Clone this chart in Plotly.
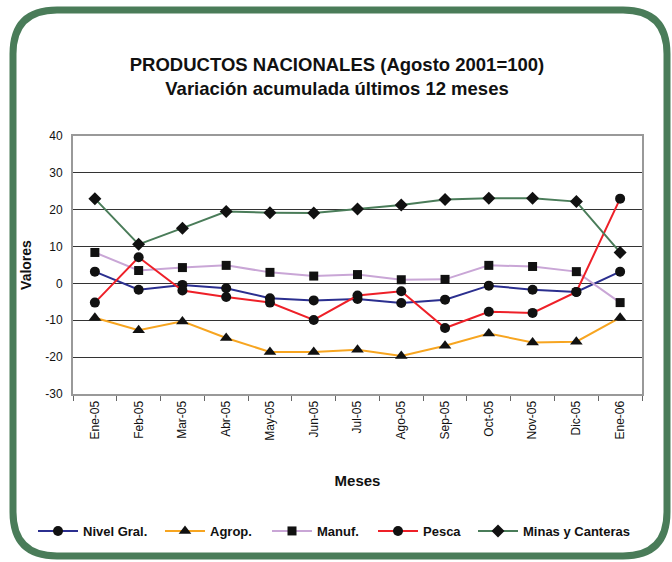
import plotly.graph_objects as go

meses = ["Ene-05", "Feb-05", "Mar-05", "Abr-05", "May-05", "Jun-05", "Jul-05",
         "Ago-05", "Sep-05", "Oct-05", "Nov-05", "Dic-05", "Ene-06"]
nivel_gral = [3.2, -1.7, -0.4, -1.3, -4.0, -4.6, -4.2, -5.3, -4.4, -0.6, -1.7, -2.3, 3.2]
agrop = [-9.3, -12.7, -10.3, -14.8, -18.6, -18.6, -18.0, -19.7, -16.9, -13.6, -16.0, -15.8, -9.3]
manuf = [8.4, 3.5, 4.3, 4.9, 3.0, 2.0, 2.4, 1.0, 1.1, 4.9, 4.6, 3.2, -5.2]
pesca = [-5.2, 7.1, -1.9, -3.7, -5.2, -9.9, -3.3, -2.1, -12.1, -7.7, -8.0, -2.3, 23.0]
minas = [23.0, 10.6, 15.0, 19.5, 19.2, 19.1, 20.2, 21.3, 22.8, 23.1, 23.1, 22.2, 8.4]
y_ticks = [-30, -20, -10, 0, 10, 20, 30, 40]
y_labels = ["-30", "-20", "-10", "0", "10", "20", "30", "40"]

series = [
    ("Nivel Gral.", nivel_gral, "#2b2f8f", "circle", 10),
    ("Agrop.", agrop, "#f7a520", "triangle-up", 11),
    ("Manuf.", manuf, "#c9a6d6", "square", 9),
    ("Pesca", pesca, "#ee2028", "circle", 10),
    ("Minas y Canteras", minas, "#4a7c59", "diamond", 10),
]
legend_starts = [33, 160, 267, 373, 473]

FONT = "Liberation Sans, Arial, sans-serif"

W, H = 672, 562
L, R, T, B = 73, 30, 136, 168
pw, ph = W - L - R, H - T - B

def px(x):
    return (x - L) / pw

def py(y):
    return (H - B - y) / ph

fig = go.Figure()
legends = {}
for i, (name, vals, col, sym, sz) in enumerate(series):
    lname = "legend" if i == 0 else f"legend{i+1}"
    fig.add_trace(go.Scatter(
        x=meses, y=vals, name=f"<b>{name}</b>", mode="lines+markers",
        line=dict(color=col, width=2),
        marker=dict(symbol=sym, size=sz, color="#111111"),
        legend=lname,
    ))
    legends[lname] = dict(
        orientation="h", x=px(legend_starts[i]), xanchor="left",
        y=py(531), yanchor="middle",
        font=dict(size=13, family=FONT),
        itemwidth=40, bgcolor="rgba(0,0,0,0)",
    )

# rounded frame
x0, x1, y0, y1, r = 13, 667, 10, 556, 44
path = (f"M {px(x0+r)},{py(y0)} L {px(x1-r)},{py(y0)} Q {px(x1)},{py(y0)} {px(x1)},{py(y0+r)} "
        f"L {px(x1)},{py(y1-r)} Q {px(x1)},{py(y1)} {px(x1-r)},{py(y1)} "
        f"L {px(x0+r)},{py(y1)} Q {px(x0)},{py(y1)} {px(x0)},{py(y1-r)} "
        f"L {px(x0)},{py(y0+r)} Q {px(x0)},{py(y0)} {px(x0+r)},{py(y0)} Z")

fig.update_layout(
    width=W, height=H,
    margin=dict(l=L, r=R, t=T, b=B, autoexpand=False),
    paper_bgcolor="white", plot_bgcolor="white",
    font=dict(family=FONT, color="#111111"),
    title=dict(
        text="<b>PRODUCTOS NACIONALES (Agosto 2001=100)</b><br><b>Variación acumulada últimos 12 meses</b>",
        x=337 / W, xanchor="center", xref="container",
        y=1 - 71 / H, yanchor="middle", yref="container",
        font=dict(size=18.5),
    ),
    xaxis=dict(
        type="category", range=[-0.5, 12.5], tickson="boundaries",
        ticks="outside", ticklen=5, tickcolor="#666666", tickangle=-90,
        tickfont=dict(size=12), showgrid=False, automargin=False,
        showline=True, linecolor="#999999", linewidth=2, mirror=True,
        title=dict(text="<b>Meses</b>", font=dict(size=15), standoff=36),
    ),
    yaxis=dict(
        range=[-30, 40], tickvals=y_ticks, ticktext=y_labels, tickfont=dict(size=12),
        showgrid=True, gridcolor="#333333", gridwidth=1, automargin=False,
        zeroline=False, showline=True, linecolor="#999999", linewidth=2, mirror=True,
        ticks="outside", ticklen=6, tickcolor="rgba(0,0,0,0)",
        title=dict(text="<b>Valores</b>", font=dict(size=14), standoff=10),
    ),
    showlegend=True,
    shapes=[dict(type="path", path=path, xref="paper", yref="paper",
                 line=dict(color="#4a7c59", width=7), layer="below")],
    **legends,
)

fig.write_html("out.html", config={"displayModeBar": False},
               post_script="document.body.style.margin='0';")
